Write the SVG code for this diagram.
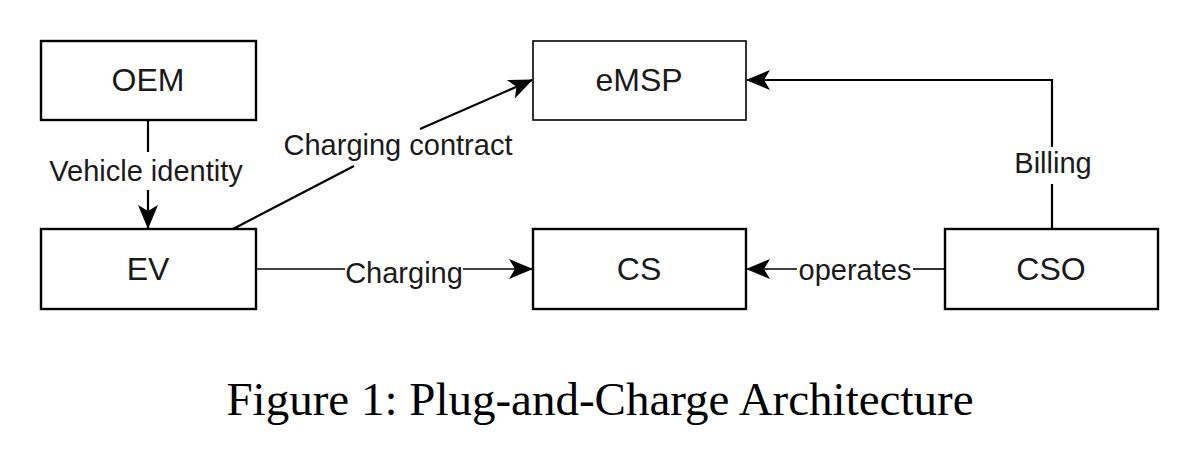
<svg xmlns="http://www.w3.org/2000/svg" width="1200" height="466" viewBox="0 0 1200 466">
<style>
.box{fill:#fff;stroke:#000;stroke-width:2.4}
.nt{font-family:"Liberation Sans",Arial,sans-serif;font-size:32px;fill:#1a1a1a;text-anchor:middle}
.lb{font-family:"Liberation Sans",Arial,sans-serif;font-size:29px;fill:#1a1a1a;text-anchor:middle}
.ln{fill:none;stroke:#000;stroke-width:2.2}
.cap{font-family:"Liberation Serif","Times New Roman",serif;font-size:47px;fill:#000;text-anchor:middle}
</style>
<defs>
<marker id="arr" viewBox="0 0 24 20" markerWidth="24" markerHeight="20" refX="23" refY="10" orient="auto" markerUnits="userSpaceOnUse">
<path d="M0,0 L24,10 L0,20 L6,10 z" fill="#000"/>
</marker>
</defs>
<rect width="1200" height="466" fill="#fff"/>
<g id="connectors">
<g id="c-oem-ev">
<line class="ln" x1="148" y1="120" x2="148" y2="152"/>
<line class="ln" x1="148" y1="190" x2="148" y2="228" marker-end="url(#arr)"/>
<text class="lb" x="146" y="181">Vehicle identity</text>
</g>
<g id="c-ev-emsp">
<line class="ln" x1="233" y1="229" x2="354" y2="166"/>
<line class="ln" x1="420" y1="129" x2="532" y2="80" marker-end="url(#arr)"/>
<text class="lb" x="398" y="155">Charging contract</text>
</g>
<g id="c-ev-cs">
<line class="ln" x1="256" y1="269" x2="345" y2="269" style="stroke-width:1.6"/>
<line class="ln" x1="463" y1="269" x2="532" y2="269" style="stroke-width:1.6" marker-end="url(#arr)"/>
<text class="lb" x="404" y="283">Charging</text>
</g>
<g id="c-cso-cs">
<line class="ln" x1="945" y1="269" x2="913" y2="269" style="stroke-width:1.6"/>
<line class="ln" x1="797" y1="269" x2="747" y2="269" style="stroke-width:1.6" marker-end="url(#arr)"/>
<text class="lb" x="855" y="280">operates</text>
</g>
<g id="c-cso-emsp">
<polyline class="ln" points="1052,229 1052,184"/>
<polyline class="ln" points="1052,147 1052,80 747,80" marker-end="url(#arr)"/>
<text class="lb" x="1053" y="173">Billing</text>
</g>
</g>
<g id="node-oem"><rect class="box" x="41" y="41" width="215" height="79"/><text class="nt" x="148" y="91">OEM</text></g>
<g id="node-ev"><rect class="box" x="41" y="229" width="215" height="80"/><text class="nt" x="148" y="280">EV</text></g>
<g id="node-emsp"><rect class="box" x="533" y="41" width="213" height="79" style="stroke-width:1.6"/><text class="nt" x="639" y="91">eMSP</text></g>
<g id="node-cs"><rect class="box" x="533" y="229" width="213" height="80"/><text class="nt" x="639" y="280">CS</text></g>
<g id="node-cso"><rect class="box" x="945" y="229" width="213" height="80"/><text class="nt" x="1051" y="280">CSO</text></g>
<text class="cap" x="600" y="415">Figure 1: Plug-and-Charge Architecture</text>
</svg>
